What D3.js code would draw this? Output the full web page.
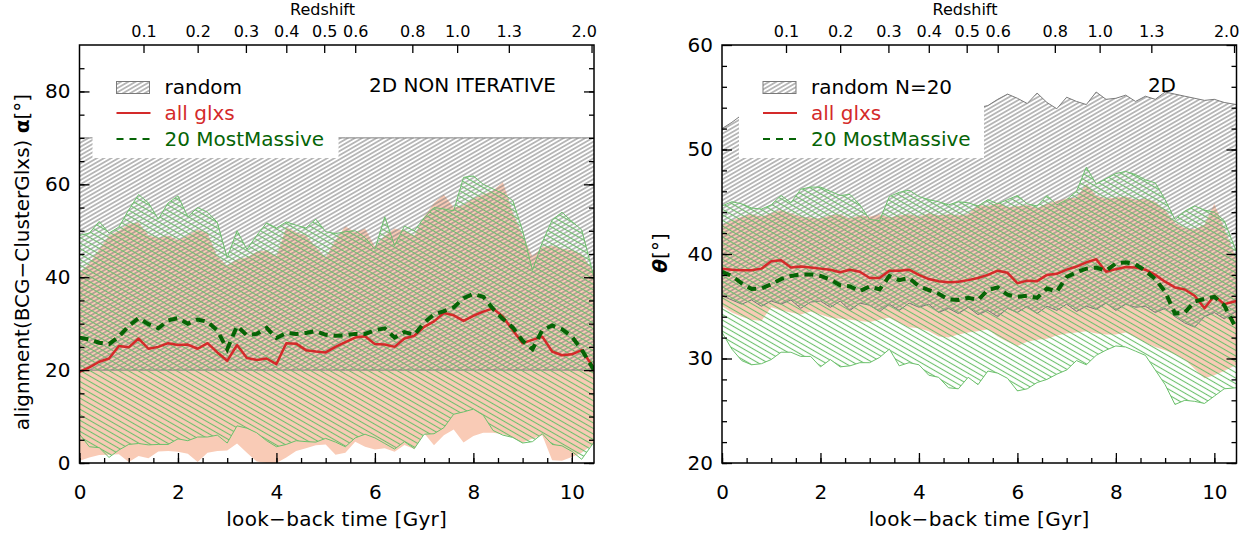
<!DOCTYPE html>
<html>
<head>
<meta charset="utf-8">
<script src="https://cdn.jsdelivr.net/npm/d3@7"></script>
<style>
body { margin: 0; background: #fff; }
svg text { font-family: "DejaVu Sans", sans-serif; fill: #000; }
.tick text { font-size: 20px; }
.top .tick text { font-size: 16px; }
.lab { font-size: 20px; }
</style>
</head>
<body>
<svg id="chart" width="1260" height="534"></svg>
<script>
// look-back time grid [Gyr]
const lookback = [0.0,0.2,0.4,0.6,0.8,1.0,1.2,1.4,1.6,1.8,
                  2.0,2.2,2.4,2.6,2.8,3.0,3.2,3.4,3.6,3.8,
                  4.0,4.2,4.4,4.6,4.8,5.0,5.2,5.4,5.6,5.8,
                  6.0,6.2,6.4,6.6,6.8,7.0,7.2,7.4,7.6,7.8,
                  8.0,8.2,8.4,8.6,8.8,9.0,9.2,9.4,9.6,9.8,
                  10.0,10.2,10.45];

const timeTicks = [0, 2, 4, 6, 8, 10];
const zLabels = ["0.1","0.2","0.3","0.4","0.5","0.6","0.8","1.0","1.3","2.0"];
const zLookback = [1.30, 2.40, 3.38, 4.20, 4.97, 5.60, 6.76, 7.67, 8.72, 10.40];

// left panel: alignment alpha
const alignTicks = [0, 20, 40, 60, 80];
const alignRandom = [20, 70];
const alignAll = [19.6,20.6,21.8,22.5,25.2,24.9,26.8,24.6,25.0,25.8,
                  25.4,25.5,24.6,25.8,23.8,22.0,25.4,22.6,22.2,22.5,
                  21.3,25.8,25.7,24.3,24.0,23.8,25.0,26.0,27.0,27.3,
                  25.6,25.5,25.0,26.8,27.4,29.3,30.5,32.3,31.8,30.6,
                  31.7,32.6,33.3,31.5,28.6,25.8,26.5,27.2,24.0,23.2,
                  23.4,24.3,20.4];
const alignMM = [27.0,26.6,25.9,25.6,27.2,29.5,31.2,29.9,29.0,30.7,
                 31.2,30.0,30.9,30.4,28.5,24.5,29.5,27.5,27.8,29.1,
                 26.9,28.0,27.8,28.0,28.4,27.6,27.4,27.5,27.8,27.8,
                 28.6,29.0,27.0,28.2,27.6,30.2,32.0,32.7,33.5,35.5,
                 36.4,35.8,33.2,31.0,29.2,26.3,24.5,28.6,29.6,28.8,
                 27.2,24.4,20.0];
const alignAllHi = [41.0,43.0,46.0,49.0,50.0,51.5,51.8,49.0,48.5,49.0,
                    48.0,49.0,50.2,49.5,44.5,42.5,43.8,44.3,45.5,45.8,
                    44.5,50.8,49.7,49.0,46.5,44.3,48.0,51.0,49.7,50.5,
                    46.6,49.0,50.5,50.0,49.0,53.0,56.0,57.8,55.0,55.5,
                    57.0,57.8,58.6,60.5,54.0,49.0,44.5,46.5,46.8,46.2,
                    45.8,45.0,41.0];
const alignAllLo = [0.5,1.2,1.7,1.8,1.9,0.2,1.5,1.0,2.5,2.6,
                    2.4,2.0,0.2,2.2,2.6,2.7,4.2,2.2,0.3,0.0,
                    0.0,1.2,2.6,3.2,3.8,4.0,1.8,2.2,4.6,3.5,
                    2.9,3.2,2.4,3.9,3.0,6.4,3.8,6.0,7.2,4.4,
                    5.8,6.5,6.5,6.2,5.5,4.4,5.2,6.0,0.6,0.5,
                    1.3,2.2,4.2];
const alignMMHi = [49.0,49.5,52.0,49.5,50.8,54.5,57.8,56.0,52.5,56.0,
                   57.5,53.0,55.0,54.0,51.8,44.2,50.0,46.0,49.0,51.7,
                   50.6,51.9,51.2,50.6,52.5,49.8,49.4,49.8,50.0,48.5,
                   46.0,53.0,46.8,51.0,50.0,52.8,55.0,54.7,54.3,61.5,
                   61.8,60.0,59.0,58.0,56.5,50.0,41.5,47.5,52.3,54.0,
                   52.0,50.2,40.0];
const alignMMLo = [6.2,3.5,3.3,1.2,2.8,4.0,4.2,3.9,4.0,4.0,
                   5.2,4.8,5.6,5.6,6.0,4.3,8.0,7.5,6.5,4.8,
                   3.5,4.0,4.8,4.6,4.5,5.3,4.5,3.5,5.4,6.2,
                   5.4,4.2,3.0,4.6,3.1,6.2,6.3,7.6,10.5,11.0,
                   11.6,10.3,7.0,6.0,5.5,4.3,4.6,6.3,4.0,3.7,
                   2.5,0.8,4.5];

// right panel: theta
const thetaTicks = [20, 30, 40, 50, 60];
const thetaAll = [38.6,38.5,38.45,38.45,38.6,39.3,39.4,38.7,38.8,38.7,
                  38.6,38.5,38.25,38.5,38.3,37.7,37.7,38.4,38.4,38.5,
                  38.0,37.6,37.4,37.3,37.35,37.5,37.7,38.0,38.4,38.2,
                  37.2,37.45,37.4,38.0,38.1,38.5,38.8,39.2,39.5,38.3,
                  38.55,38.75,38.7,38.5,38.0,37.35,36.8,36.6,36.0,34.8,
                  36.0,35.2,35.5];
const thetaMM = [38.3,37.9,37.2,36.65,36.7,37.1,37.6,37.9,38.05,38.05,
                 37.9,37.55,37.0,36.9,36.45,36.9,36.6,37.9,37.5,37.7,
                 36.9,36.55,36.2,35.65,35.6,35.8,35.6,36.55,36.8,36.1,
                 35.9,36.0,35.8,36.7,36.4,37.8,38.25,38.6,38.7,38.4,
                 39.1,39.2,39.0,38.4,37.6,36.4,34.3,34.4,35.45,35.7,
                 35.9,35.1,32.8];
const thetaAllHi = [42.8,43.2,43.6,43.8,43.6,43.9,44.2,43.9,43.6,43.5,
                    43.4,43.7,43.8,43.4,43.7,43.6,43.8,43.5,43.7,43.8,
                    43.6,43.9,43.7,43.8,43.7,43.8,44.7,44.6,44.9,44.5,
                    44.6,44.7,44.4,44.8,45.1,45.3,45.4,46.7,45.6,45.3,
                    45.4,45.5,45.2,45.3,45.0,44.2,43.0,42.5,42.4,42.8,
                    44.8,42.5,39.5];
const thetaAllLo = [35.0,34.4,34.0,33.7,33.6,34.9,34.6,34.4,34.2,34.5,
                    34.2,33.9,33.8,33.7,33.6,33.5,33.7,33.9,33.4,33.0,
                    32.9,32.6,32.1,32.0,32.3,32.5,32.6,32.8,32.1,31.6,
                    31.2,31.6,31.8,31.9,32.2,32.4,32.5,32.6,32.4,32.3,
                    32.3,32.5,32.0,31.5,31.1,30.8,30.4,29.9,29.0,28.1,
                    28.4,28.8,29.4];
const thetaMMHi = [44.6,45.0,44.8,44.4,44.3,44.7,45.6,44.9,46.2,46.4,
                   46.4,46.0,45.6,45.7,44.7,43.3,43.2,45.5,45.9,46.1,
                   45.5,45.2,45.0,44.7,45.0,44.9,44.6,45.2,44.8,45.2,
                   45.6,44.8,44.6,45.6,44.7,45.2,46.0,48.3,46.7,47.2,
                   47.7,47.9,47.6,47.1,46.8,45.2,43.3,44.1,44.6,44.2,
                   44.0,43.2,40.2];
const thetaMMLo = [32.5,30.9,29.8,29.4,29.5,29.9,30.6,30.6,30.2,30.2,
                   29.2,29.9,29.2,29.3,29.6,29.6,30.1,30.9,29.3,29.6,
                   29.4,28.4,28.2,27.2,27.1,28.2,27.5,28.8,28.6,28.1,
                   26.9,27.1,27.7,28.0,28.5,28.9,29.8,29.4,30.3,30.8,
                   31.2,31.1,30.7,30.3,28.9,27.5,25.6,26.0,25.9,25.7,
                   26.4,27.1,27.2];
const thetaRandLo = [36.0,35.6,35.2,35.6,35.0,35.5,35.2,35.6,34.8,35.4,
                     35.5,34.9,35.5,34.6,35.3,35.1,34.5,35.2,34.6,35.3,
                     34.9,35.2,34.4,34.8,34.3,34.9,34.2,34.6,34.0,34.8,
                     34.4,35.0,34.3,35.0,34.6,35.2,34.5,35.0,34.7,35.3,
                     34.6,35.2,34.9,35.0,34.4,34.8,34.0,33.4,33.0,34.0,
                     34.4,33.8,34.5];
const thetaRandHi = [52.0,52.6,53.3,53.6,54.0,54.3,53.8,54.2,54.5,54.0,
                     54.4,54.1,54.6,54.2,53.9,54.3,54.7,54.2,54.5,54.0,
                     54.4,54.8,54.3,54.6,54.1,54.5,54.0,54.2,54.8,55.3,
                     54.9,54.4,55.4,54.5,53.9,55.0,54.6,54.3,55.5,54.8,
                     54.9,55.2,54.6,55.1,54.8,55.5,55.3,55.1,54.9,54.7,
                     54.8,54.5,54.3];

const svg = d3.select("#chart");
const frameTop = 45, frameBottom = 463;
const grey = "#7a7a7a", lightGreen = "#6cc06c", salmon = "#f9cbb6";
const red = "#d42a2a", darkGreen = "#066406";

const defs = svg.append("defs");
function hatch(id, size, angle, color, w) {
    const p = defs.append("pattern")
        .attr("id", id)
        .attr("patternUnits", "userSpaceOnUse")
        .attr("width", size).attr("height", size)
        .attr("patternTransform", `rotate(${angle})`);
    p.append("line")
        .attr("x1", 0).attr("x2", size)
        .attr("y1", size / 2).attr("y2", size / 2)
        .attr("stroke", color).attr("stroke-width", w);
}
hatch("hGrey", 3.6, -30, grey, 1);
hatch("hGreen", 4.8, 30, lightGreen, 1.1);

function panel(o) {
    const x = d3.scaleLinear().domain([0, 10.45]).range([o.left, o.right]);
    const y = d3.scaleLinear().domain(o.yDomain).range([frameBottom, frameTop]);
    const g = svg.append("g");

    defs.append("clipPath").attr("id", o.id + "clip")
        .append("rect")
        .attr("x", o.left).attr("y", frameTop)
        .attr("width", o.right - o.left).attr("height", frameBottom - frameTop);
    const plot = g.append("g").attr("clip-path", `url(#${o.id}clip)`);

    const area = (lo, hi) => d3.area()
        .x((d, i) => x(lookback[i]))
        .y0((d, i) => y(lo[i]))
        .y1((d, i) => y(hi[i]))(lookback);
    const line = v => d3.line()
        .x((d, i) => x(lookback[i]))
        .y((d, i) => y(v[i]))(lookback);

    // all glxs band
    plot.append("path").attr("d", area(o.allLo, o.allHi)).attr("fill", salmon);
    // random band
    plot.append("path").attr("d", area(o.randLo, o.randHi)).attr("fill", "url(#hGrey)");
    [o.randLo, o.randHi].forEach(v =>
        plot.append("path").attr("d", line(v))
            .attr("fill", "none").attr("stroke", grey).attr("stroke-width", 1));
    // 20 most massive band
    plot.append("path").attr("d", area(o.mmLo, o.mmHi)).attr("fill", "url(#hGreen)");
    [o.mmLo, o.mmHi].forEach(v =>
        plot.append("path").attr("d", line(v))
            .attr("fill", "none").attr("stroke", lightGreen).attr("stroke-width", 1));

    plot.append("path").attr("d", line(o.all))
        .attr("fill", "none").attr("stroke", red).attr("stroke-width", 2.5)
        .attr("stroke-linejoin", "round");
    plot.append("path").attr("d", line(o.mm))
        .attr("fill", "none").attr("stroke", darkGreen).attr("stroke-width", 4)
        .attr("stroke-dasharray", "9,6");

    // axes (IDL style inward ticks)
    const clean = s => { s.select(".domain").remove(); s.selectAll("line").attr("stroke-width", 1.3); };
    g.append("g").attr("transform", `translate(0,${frameBottom})`)
        .call(d3.axisBottom(x).tickValues(timeTicks).tickSize(-10).tickPadding(22).tickFormat(d3.format("d")))
        .call(clean);
    g.append("g").attr("transform", `translate(0,${frameBottom})`)
        .call(d3.axisBottom(x).tickValues(d3.range(0, 10.45, 0.5)).tickSize(-5).tickFormat(""))
        .call(clean);
    g.append("g").attr("transform", `translate(${o.left},0)`)
        .call(d3.axisLeft(y).tickValues(o.yTicks).tickSize(-10).tickPadding(9))
        .call(clean);
    g.append("g").attr("transform", `translate(${o.left},0)`)
        .call(d3.axisLeft(y).tickValues(d3.range(o.yDomain[0], o.yDomain[1], o.yMinor)).tickSize(-5).tickFormat(""))
        .call(clean);
    g.append("g").attr("transform", `translate(${o.right},0)`)
        .call(d3.axisRight(y).tickValues(o.yTicks).tickSize(-10).tickFormat(""))
        .call(clean);
    g.append("g").attr("transform", `translate(${o.right},0)`)
        .call(d3.axisRight(y).tickValues(d3.range(o.yDomain[0], o.yDomain[1], o.yMinor)).tickSize(-5).tickFormat(""))
        .call(clean);
    const top = g.append("g").attr("class", "top").attr("transform", `translate(0,${frameTop})`)
        .call(d3.axisTop(x).tickValues(zLookback).tickSize(-8).tickPadding(8).tickFormat((d, i) => zLabels[i]))
        .call(clean);
    top.selectAll(".tick text").filter((d, i) => i === zLabels.length - 1)
        .attr("text-anchor", "end").attr("dx", "0.3em");

    g.append("rect")
        .attr("x", o.left).attr("y", frameTop)
        .attr("width", o.right - o.left).attr("height", frameBottom - frameTop)
        .attr("fill", "none").attr("stroke", "#000").attr("stroke-width", 1.5);

    g.append("text").attr("x", o.left + 243).attr("y", 15)
        .attr("text-anchor", "middle").attr("font-size", 16).text("Redshift");
    g.append("text").attr("class", "lab")
        .attr("x", (o.left + o.right) / 2).attr("y", 526)
        .attr("text-anchor", "middle").attr("letter-spacing", 0.3)
        .text("look\u2212back time [Gyr]");

    // legend
    const lx = o.left + o.legendDx;
    g.append("rect").attr("x", lx - 24).attr("y", 60)
        .attr("width", o.legendW).attr("height", 98).attr("fill", "#fff");
    g.append("rect").attr("x", lx).attr("y", 81.5).attr("width", 33).attr("height", 12)
        .attr("fill", "url(#hGrey)").attr("stroke", grey).attr("stroke-width", 1);
    g.append("text").attr("class", "lab").attr("x", lx + 48).attr("y", 94).text(o.randLabel);
    g.append("line").attr("x1", lx).attr("x2", lx + 34).attr("y1", 113).attr("y2", 113)
        .attr("stroke", red).attr("stroke-width", 2);
    g.append("text").attr("class", "lab").attr("x", lx + 48).attr("y", 120)
        .style("fill", red).text("all glxs");
    g.append("line").attr("x1", lx).attr("x2", lx + 34).attr("y1", 139).attr("y2", 139)
        .attr("stroke", darkGreen).attr("stroke-width", 2).attr("stroke-dasharray", "7,6");
    g.append("text").attr("class", "lab").attr("x", lx + 48).attr("y", 146)
        .style("fill", darkGreen).text("20 MostMassive");

    g.append("text").attr("class", "lab").attr("x", o.tagX).attr("y", 92)
        .attr("text-anchor", "end").text(o.tag);
    return g;
}

const left = panel({
    id: "L", left: 79.5, right: 594, yDomain: [0, 90], yTicks: alignTicks, yMinor: 5,
    all: alignAll, mm: alignMM, allLo: alignAllLo, allHi: alignAllHi,
    mmLo: alignMMLo, mmHi: alignMMHi,
    randLo: lookback.map(() => alignRandom[0]), randHi: lookback.map(() => alignRandom[1]),
    legendDx: 37, legendW: 246, randLabel: "random", tag: "2D  NON  ITERATIVE", tagX: 556
});
left.append("text").attr("class", "lab")
    .attr("transform", "translate(29,262) rotate(-90)")
    .attr("text-anchor", "middle")
    .text("alignment(BCG\u2212ClusterGlxs)  ")
    .append("tspan").attr("font-weight", "bold").text("\u03b1")
    .select(function() { return this.parentNode; })
    .append("tspan").text("[\u00b0]");

const right = panel({
    id: "R", left: 722, right: 1236.5, yDomain: [20, 60], yTicks: thetaTicks, yMinor: 2,
    all: thetaAll, mm: thetaMM, allLo: thetaAllLo, allHi: thetaAllHi,
    mmLo: thetaMMLo, mmHi: thetaMMHi, randLo: thetaRandLo, randHi: thetaRandHi,
    legendDx: 41, legendW: 245, randLabel: "random N=20", tag: "2D", tagX: 1176
});
right.append("text").attr("class", "lab")
    .attr("transform", "translate(667,253) rotate(-90)")
    .attr("text-anchor", "middle")
    .append("tspan").attr("font-weight", "bold").attr("font-style", "italic").text("\u03b8")
    .select(function() { return this.parentNode; })
    .append("tspan").text("[\u00b0]");
</script>
</body>
</html>
